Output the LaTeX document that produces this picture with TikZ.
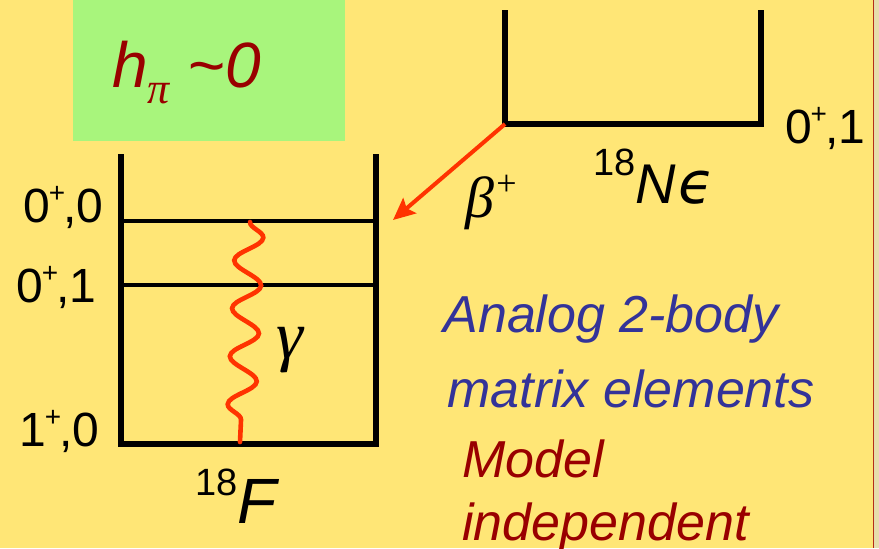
\documentclass[tikz,border=0pt]{standalone}
\usepackage{fontspec}
\setmainfont{Liberation Sans}
\newfontfamily\greekit{Liberation Serif}
\newfontfamily\lunate{DejaVu Sans}
\usetikzlibrary{arrows.meta, decorations.pathmorphing}
\definecolor{slide}{RGB}{255,230,118}
\definecolor{margin}{RGB}{230,221,172}
\definecolor{rim}{RGB}{180,45,25}
\definecolor{hilite}{RGB}{168,245,124}
\definecolor{darkred}{RGB}{153,0,0}
\definecolor{slateblue}{RGB}{51,51,153}
\definecolor{photon}{RGB}{255,51,0}
\newcommand\spup{\kern-0.8pt\raisebox{10pt}{\fontsize{14}{14}\selectfont +}\kern-0.8pt}

\begin{document}
\begin{tikzpicture}[
  x=0.5pt, y=-0.5pt,
  wall/.style={line width=2.6pt, line cap=rect},
  rung/.style={line width=2.3pt},
  spin/.style={font=\fontsize{24}{24}\selectfont, inner sep=0pt, anchor=base east},
  nucl/.style={inner sep=0pt, anchor=base west},
  note/.style={font=\fontsize{26}{26}\selectfont\itshape, inner sep=0pt, anchor=base west}
]
\useasboundingbox (0,0) rectangle (879,548);
\fill[slide] (0,0) rectangle (879,548);
\fill[margin] (873,0) rectangle (879,548);
\draw[rim, line width=0.8pt] (873.5,0) -- (873.5,548);

\node[fill=hilite, minimum width=136pt, minimum height=70.5pt, inner sep=0pt] (hbox) at (209,70.5) {};
\node[nucl, text=darkred, font=\fontsize{32}{32}\selectfont\itshape] (hpi) at (112,87)
  {h\raisebox{-8pt}{\fontsize{22}{22}\greekit\itshape π} \textasciitilde0};

% 18F levels
\coordinate (F-tl) at (121,157);
\coordinate (F-bl) at (121,444);
\coordinate (F-br) at (376,444);
\coordinate (F-tr) at (376,157);
\draw[wall] (F-tl) -- (F-bl) -- (F-br) -- (F-tr);
\draw[rung] (121,221) coordinate (F-a) -- (376,221);
\draw[rung] (121,285) coordinate (F-b) -- (376,285);
\node[spin] (s00) at (104,222) {0\spup,0};
\node[spin] (s01) at (97,302) {0\spup,1};
\node[spin] (s10) at (100,446) {1\spup,0};
\node[nucl] (fname) at (195,523) {\fontsize{19}{19}\selectfont\raisebox{14pt}{18}\fontsize{32}{32}\selectfont\itshape F};

% 18Ne level
\coordinate (N-tl) at (505,13);
\coordinate (N-bl) at (505,124);
\coordinate (N-br) at (761,124);
\coordinate (N-tr) at (761,13);
\draw[wall] (N-tl) -- (N-bl) -- (N-br) -- (N-tr);
\node[spin, anchor=base west] (sne) at (785,143) {0\spup,1};
\node[nucl] (nename) at (593,203) {\fontsize{19}{19}\selectfont\raisebox{14pt}{18}\fontsize{28}{28}\selectfont\itshape N\kern1pt{\lunate\fontsize{29}{29}\selectfont ϵ}};

% transitions
\coordinate (beta-tip) at (393,220);
\draw[photon, line width=2pt, -{Stealth[length=11pt, width=10pt, inset=2pt]}] (N-bl) -- (beta-tip);
\node[nucl] (beta) at (465,217) {\fontsize{29}{29}\greekit\itshape β\kern1pt\raisebox{11pt}{\fontsize{18}{18}\selectfont\upshape +}};
\coordinate (g-top) at (250,222);
\coordinate (g-bot) at (240,442);
\draw[photon, line width=2.3pt, line cap=round,
  decorate, decoration={snake, segment length=24pt, amplitude=7pt}] (g-top) -- (g-bot);
\node[nucl] (gamma) at (276,358) {\fontsize{34}{34}\greekit\itshape γ};

\node[note, text=slateblue] (an1) at (443,332) {Analog 2-body};
\node[note, text=slateblue] (an2) at (447,407) {matrix elements};
\node[note, text=darkred] (mi1) at (462,477) {Model};
\node[note, text=darkred] (mi2) at (462,540) {independent};
\end{tikzpicture}
\end{document}
